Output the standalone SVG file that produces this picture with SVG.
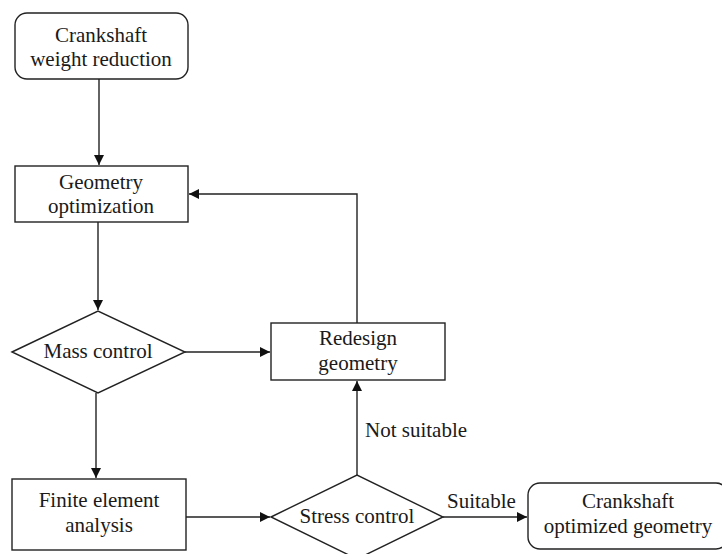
<svg xmlns="http://www.w3.org/2000/svg" width="722" height="554" viewBox="0 0 722 554">
<style>
.n{fill:#fff;stroke:#222;stroke-width:1.4}
.t{font-family:"Liberation Serif","Times New Roman",serif;font-size:21px;fill:#1a1a1a;text-anchor:middle}
.l{font-family:"Liberation Serif","Times New Roman",serif;font-size:21px;fill:#1a1a1a}
.c{fill:none;stroke:#222;stroke-width:1.4;marker-end:url(#a)}
</style>
<defs>
<marker id="a" markerWidth="10" markerHeight="10" refX="10" refY="5" orient="auto" markerUnits="userSpaceOnUse">
<path d="M0,0 L10,5 L0,10 Z" fill="#111"/>
</marker>
</defs>
<rect width="722" height="554" fill="#fff"/>
<g id="connectors">
<path class="c" d="M99,79 V165"/>
<path class="c" d="M98,222 V310"/>
<path class="c" d="M357,323 V194 H189"/>
<path class="c" d="M185,352 H270"/>
<path class="c" d="M96,393 V478"/>
<path class="c" d="M186,517 H270"/>
<path class="c" d="M357,475 V381"/>
<path class="c" d="M443,517 H527"/>
<text class="l" x="365" y="437">Not suitable</text>
<text class="l" x="447" y="508">Suitable</text>
</g>
<g id="start">
<rect class="n" x="15" y="13" width="173" height="66" rx="12"/>
<text class="t" x="101" y="42">Crankshaft</text>
<text class="t" x="101" y="66">weight reduction</text>
</g>
<g id="geometry">
<rect class="n" x="15" y="166" width="173" height="56"/>
<text class="t" x="101" y="189">Geometry</text>
<text class="t" x="101" y="213">optimization</text>
</g>
<g id="mass">
<polygon class="n" points="12,352 98,311 185,352 98,393"/>
<text class="t" x="98" y="358">Mass control</text>
</g>
<g id="redesign">
<rect class="n" x="271" y="323" width="174" height="57"/>
<text class="t" x="358" y="345">Redesign</text>
<text class="t" x="358" y="370">geometry</text>
</g>
<g id="fea">
<rect class="n" x="12" y="479" width="174" height="71"/>
<text class="t" x="99" y="507">Finite element</text>
<text class="t" x="99" y="532">analysis</text>
</g>
<g id="stress">
<polygon class="n" points="271,517 357,475 443,517 357,559"/>
<text class="t" x="357" y="523">Stress control</text>
</g>
<g id="final">
<rect class="n" x="528" y="483" width="200" height="66" rx="12"/>
<text class="t" x="628" y="508">Crankshaft</text>
<text class="t" x="628" y="533">optimized geometry</text>
</g>
</svg>
